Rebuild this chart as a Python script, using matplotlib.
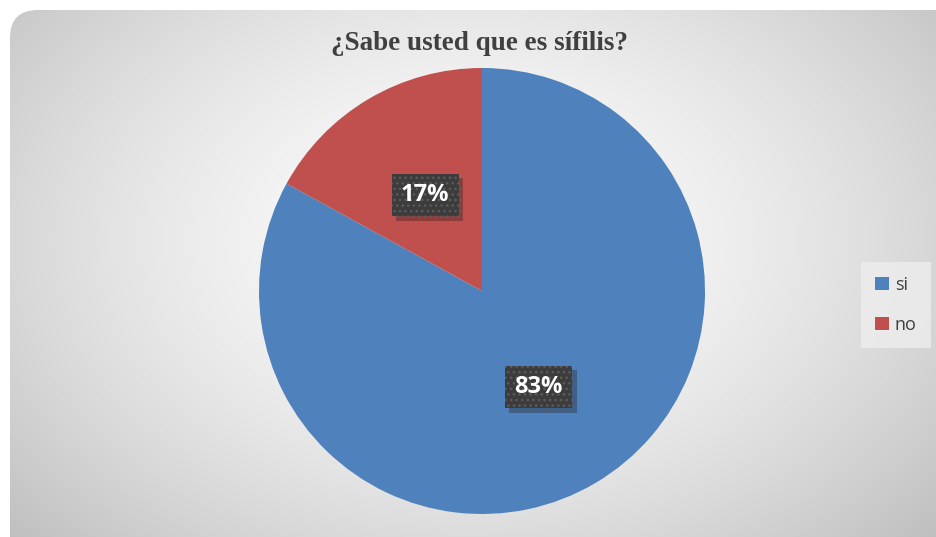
import matplotlib.pyplot as plt
import numpy as np
from matplotlib.patches import FancyBboxPatch
import matplotlib.patheffects as pe

labels = ["si", "no"]
values = [83, 17]
colors = ["#4F81BD", "#C0504D"]
title = "¿Sabe usted que es sífilis?"

W, H = 937, 537
fig = plt.figure(figsize=(W / 100, H / 100), dpi=100)
fig.patch.set_facecolor("white")

# background panel with rounded corners and a radial grey gradient
bg = fig.add_axes([0, 0, 1, 1])
bg.set_xlim(0, W)
bg.set_ylim(H, 0)
bg.axis("off")

shadow = FancyBboxPatch((12, 11), W + 20, H + 20, boxstyle="round,pad=0,rounding_size=28",
                        fc="#b8b8b8", ec="none", zorder=0)
bg.add_patch(shadow)
panel = FancyBboxPatch((10, 10), W + 20, H + 20, boxstyle="round,pad=0,rounding_size=28",
                       fc="none", ec="none", zorder=1)
bg.add_patch(panel)

yy, xx = np.mgrid[0:H, 0:W]
d = np.sqrt(((xx - 470) / 560) ** 2 + ((yy - 240) / 390) ** 2)
shade = np.clip(0.99 - 0.2 * d ** 1.6, 0, 1)
img = bg.imshow(np.dstack([shade] * 3), extent=(0, W, H, 0), zorder=1, interpolation="bilinear")
img.set_clip_path(panel)

# pie
cx, cy, r = 482, 291, 223
ax = fig.add_axes([(cx - r) / W, (H - cy - r) / H, 2 * r / W, 2 * r / H])
wedges, _ = ax.pie(values, colors=colors, startangle=90, counterclock=False,
                   wedgeprops=dict(linewidth=0))
ax.set_xlim(-1, 1)
ax.set_ylim(-1, 1)
ax.set_aspect("auto")

total = sum(values)
for w, v in zip(wedges, values):
    mid = np.deg2rad((w.theta1 + w.theta2) / 2)
    t = ax.text(0.5 * np.cos(mid), 0.5 * np.sin(mid), f"{v / total:.0%}",
                ha="center", va="center", fontsize=17, fontweight="bold",
                color="white", family="Open Sans", zorder=5,
                bbox=dict(boxstyle="square,pad=0.4", fc="#3c3c3c", ec="#5c5c5c",
                          lw=0, hatch="..."))
    t.get_bbox_patch().set_path_effects([
        pe.SimplePatchShadow(offset=(3, -3), shadow_rgbFace="#000000", alpha=0.25),
        pe.Normal()])

fig.text(480 / W, 1 - 44 / H, title, ha="center", va="center", fontsize=19.5,
         fontweight="bold", family="Liberation Serif", color="#404040")

leg = fig.legend(wedges, labels, loc="center", bbox_to_anchor=(896 / W, 1 - 305 / H),
                 frameon=True, fancybox=False, handlelength=0.75, handleheight=0.75,
                 handletextpad=0.35, labelspacing=1.2, borderpad=0.8,
                 prop=dict(family="Open Sans", size=13))
leg.get_frame().set_facecolor("#eeeeee")
leg.get_frame().set_edgecolor("none")
for txt in leg.get_texts():
    txt.set_color("#404040")

fig.savefig("out.png", dpi=100)
